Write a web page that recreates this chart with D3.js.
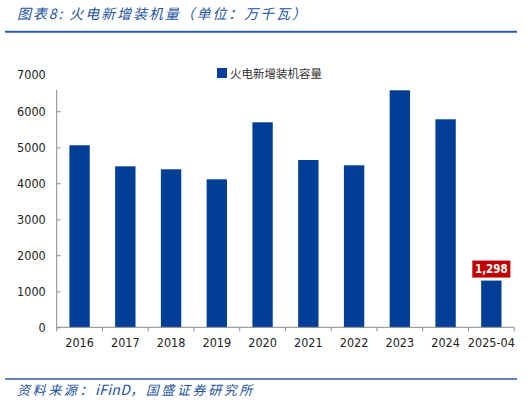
<!DOCTYPE html>
<html><head><meta charset="utf-8">
<script src="https://cdn.jsdelivr.net/npm/d3@7"></script>
<style>
html,body{margin:0;padding:0;background:#fff;}
svg{display:block;}
</style>
</head><body>
<svg id="c" width="532" height="407"></svg>
<script>
const categories = ["2016","2017","2018","2019","2020","2021","2022","2023","2024","2025-04"];
const values = [5056, 4472, 4389, 4111, 5694, 4647, 4500, 6583, 5778, 1298];
const yTicks = [0,1000,2000,3000,4000,5000,6000,7000];
const labelled = ["2025-04"];
const titleText = "图表8: 火电新增装机量（单位：万千瓦）";
const sourceParts = ["资料来源：", "iFinD", "，国盛证券研究所"];
const legendText = "火电新增装机容量";

(function(){
const svg = d3.select("#c");
const blue = "#013F97";
const textBlue = "#2252A0";
const mLeft = 56.7, mRight = 514.2, mBottom = 327.3, mTop = 75.3, axisTop = 90;
const numFont = "'DejaVu Sans Condensed','DejaVu Sans',sans-serif";

// title
svg.append("text").attr("x",17).attr("y",18.5)
  .attr("font-family","'Noto Sans CJK SC', sans-serif").attr("font-size",14)
  .attr("font-style","italic").attr("letter-spacing",1.9).attr("fill",textBlue).text(titleText);
svg.append("line").attr("x1",5).attr("x2",517).attr("y1",31.7).attr("y2",31.7)
  .attr("stroke","#2D5DA8").attr("stroke-width",2);

// footer
svg.append("line").attr("x1",5).attr("x2",517).attr("y1",379).attr("y2",379)
  .attr("stroke","#2D5DA8").attr("stroke-width",1.5);
const ft = svg.append("text").attr("x",17).attr("y",395)
  .attr("font-family","'Noto Sans CJK SC', sans-serif").attr("font-size",13)
  .attr("font-style","italic").attr("fill",textBlue);
sourceParts.forEach((p,i)=>{
  ft.append("tspan").attr("letter-spacing", i===1 ? 0.3 : 2.6)
    .attr("font-size", i===1 ? 14 : 13).text(p);
});

const x = d3.scaleBand().domain(categories).range([mLeft,mRight]).padding(0);
const y = d3.scaleLinear().domain([0,7000]).range([mBottom,mTop]);
const barW = x.bandwidth()*0.445;

// y axis
const yAxis = d3.axisLeft(y).tickValues(yTicks.filter(v=>v<7000)).tickSize(-4).tickPadding(11).tickFormat(d3.format("d"));
const gy = svg.append("g").attr("transform",`translate(${mLeft},0)`).call(yAxis);
gy.select(".domain").remove();
gy.selectAll(".tick line").attr("stroke","#8a8a8a");
gy.selectAll("text").attr("font-family",numFont).attr("font-size",12.5).attr("fill","#222");
gy.append("g").attr("class","tick").attr("transform",`translate(0,${y(7000)})`)
  .append("text").attr("x",-11).attr("dy","0.32em").attr("text-anchor","end")
  .attr("font-family",numFont).attr("font-size",12.5).attr("fill","#222")
  .text(d3.format("d")(7000));
svg.append("line").attr("x1",mLeft).attr("x2",mLeft).attr("y1",axisTop).attr("y2",mBottom).attr("stroke","#8a8a8a");

// bars
svg.append("g").selectAll("rect").data(categories).join("rect")
  .attr("x",(d)=>x(d)+x.bandwidth()/2-barW/2)
  .attr("y",(d,i)=>y(values[i]))
  .attr("width",barW)
  .attr("height",(d,i)=>mBottom-y(values[i]))
  .attr("fill",blue);

// x axis
const xAxis = d3.axisBottom(x).tickSize(0).tickPadding(11);
const gx = svg.append("g").attr("transform",`translate(0,${mBottom})`).call(xAxis);
gx.select(".domain").remove();
gx.selectAll("text").attr("font-family",numFont).attr("font-size",12.5).attr("fill","#222");
svg.append("line").attr("x1",mLeft).attr("x2",mRight).attr("y1",mBottom).attr("y2",mBottom).attr("stroke","#8a8a8a");
const bounds = categories.map(c=>x(c)).concat([x(categories[categories.length-1])+x.step()]);
svg.append("g").selectAll("line").data(bounds).join("line")
  .attr("x1",d=>d).attr("x2",d=>d).attr("y1",mBottom).attr("y2",mBottom+4).attr("stroke","#8a8a8a");

// data label
labelled.forEach(c=>{
  const i = categories.indexOf(c);
  const cx = x(c)+x.bandwidth()/2;
  const by = y(values[i]);
  const g = svg.append("g");
  g.append("rect").attr("x",cx-19).attr("y",by-20).attr("width",38).attr("height",17).attr("fill","#C00000");
  g.append("text").attr("x",cx).attr("y",by-7.5).attr("text-anchor","middle")
    .attr("font-family",numFont).attr("font-weight","bold")
    .attr("font-size",11.5).attr("fill","#fff").text(d3.format(",")(values[i]));
});

// legend
svg.append("rect").attr("x",217).attr("y",68).attr("width",10).attr("height",10).attr("fill",blue);
svg.append("text").attr("x",230).attr("y",77.5)
  .attr("font-family","'Noto Sans CJK SC', sans-serif").attr("font-size",11.5).attr("fill","#333").text(legendText);
})();
</script>
</body></html>
